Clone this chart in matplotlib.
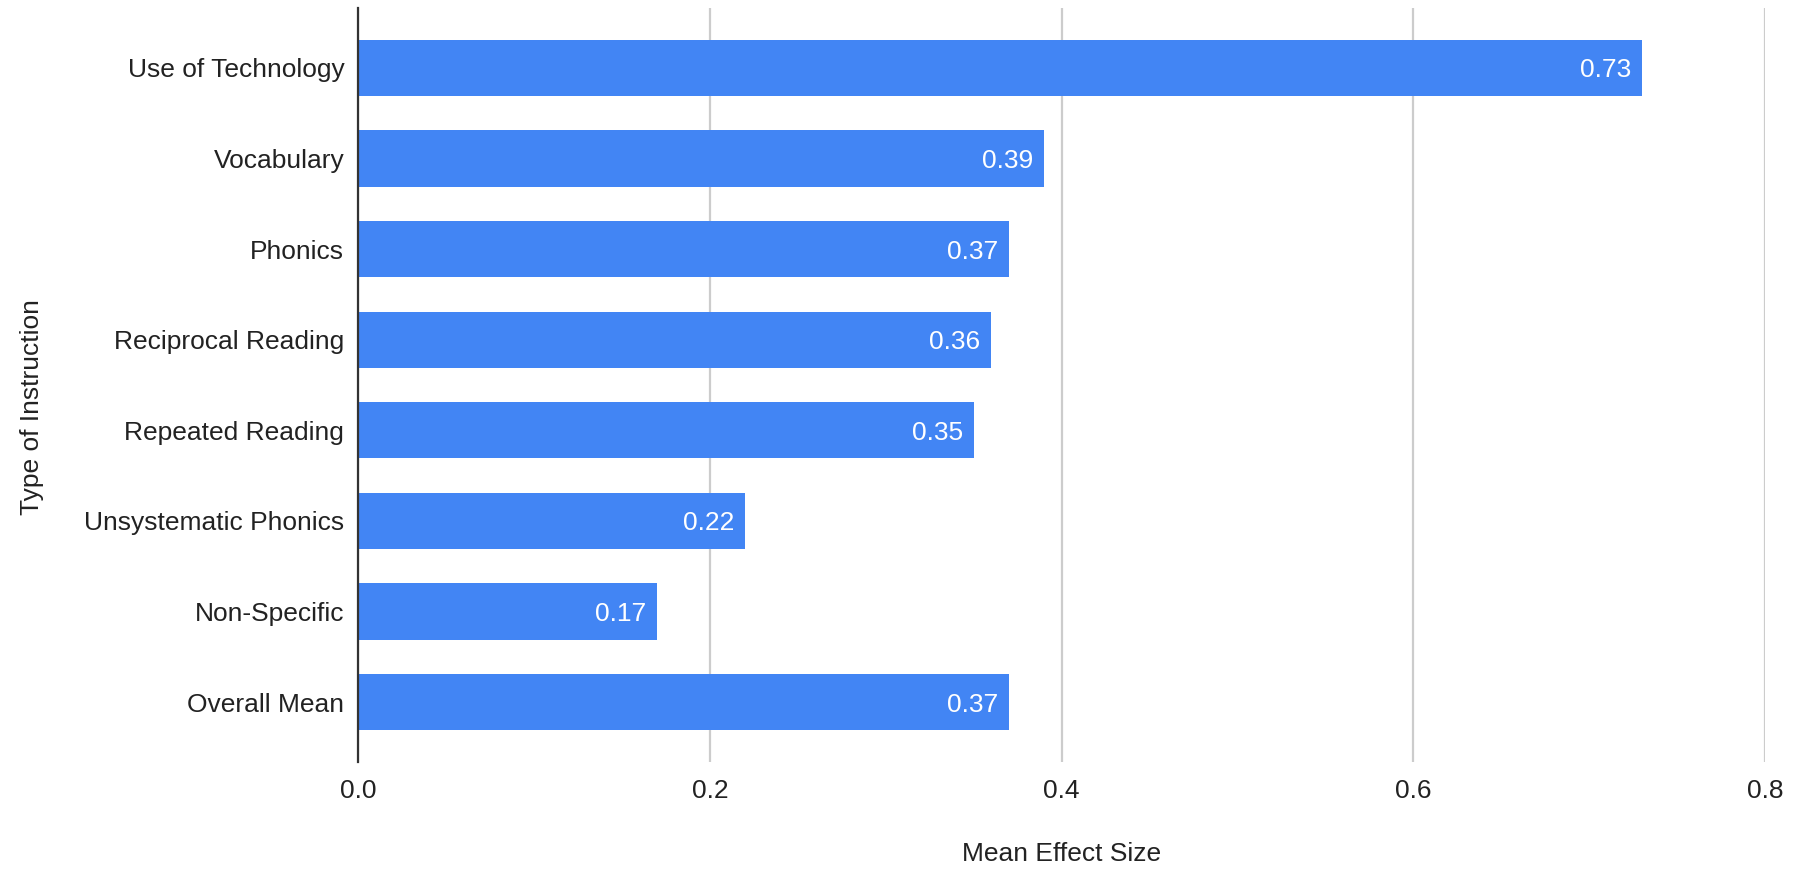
import matplotlib
matplotlib.use("Agg")
import matplotlib.pyplot as plt

categories = [
    "Use of Technology",
    "Vocabulary",
    "Phonics",
    "Reciprocal Reading",
    "Repeated Reading",
    "Unsystematic Phonics",
    "Non-Specific",
    "Overall Mean",
]
effect_sizes = [0.73, 0.39, 0.37, 0.36, 0.35, 0.22, 0.17, 0.37]
x_ticks = [0.0, 0.2, 0.4, 0.6, 0.8]

BAR_COLOR = "#4285F4"
TEXT_COLOR = "#222222"
FS = 19

plt.rcParams["font.family"] = ["Liberation Sans", "DejaVu Sans"]

fig = plt.figure(figsize=(18, 8.69), dpi=100)
ax = fig.add_axes([0.199, 0.1231, 0.7817, 0.8677])

ypos = list(range(len(categories)))
ax.barh(ypos, effect_sizes, height=0.62, color=BAR_COLOR, zorder=3)

for y, v in zip(ypos, effect_sizes):
    ax.annotate(f"{v:.2f}", xy=(v, y), xytext=(-8, 0), textcoords="offset points",
                ha="right", va="center_baseline", color="white", fontsize=FS, zorder=4)

ax.set_xlim(0, 0.8)
ax.set_ylim(len(categories) - 1 + 0.66, -0.66)
ax.set_yticks(ypos)
ax.set_yticklabels(categories)
ax.set_xticks(x_ticks)
ax.set_xticklabels([f"{t:.1f}" for t in x_ticks])

ax.tick_params(axis="both", length=0, labelsize=FS, labelcolor=TEXT_COLOR)
ax.tick_params(axis="y", pad=10)
ax.tick_params(axis="x", pad=12)

for s in ["top", "right", "bottom"]:
    ax.spines[s].set_visible(False)
ax.spines["left"].set_color("#333333")
ax.spines["left"].set_linewidth(1.6)
ax.spines["left"].set_zorder(5)

ax.grid(axis="x", color="#cccccc", linewidth=1.6, zorder=0)
ax.set_axisbelow(True)

fig.text(0.5895, 0.0173, "Mean Effect Size", ha="center", va="center",
         fontsize=FS, color=TEXT_COLOR)
fig.text(0.0177, 0.531, "Type of Instruction", ha="center", va="center",
         rotation=90, fontsize=FS, color=TEXT_COLOR)

fig.savefig("out.png", dpi=100, facecolor="white")
